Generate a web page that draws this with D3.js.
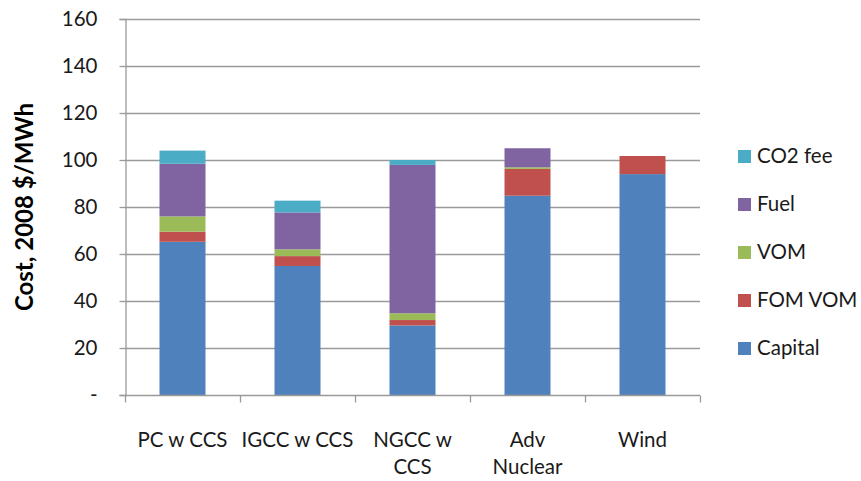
<!DOCTYPE html>
<html>
<head>
<meta charset="utf-8">
<script src="https://cdn.jsdelivr.net/npm/d3@7"></script>
<style>
  html, body { margin: 0; padding: 0; background: #fff; }
  svg { display: block; font-family: Lato, "Open Sans", "Noto Sans", sans-serif; }
</style>
</head>
<body>
<svg id="chart" width="861" height="481"></svg>
<script>
// Levelized cost components by technology (2008 $/MWh)
const categories = ["PC w CCS", "IGCC w CCS", "NGCC w CCS", "Adv Nuclear", "Wind"];
const categoryLines = [["PC w CCS"], ["IGCC w CCS"], ["NGCC w", "CCS"], ["Adv", "Nuclear"], ["Wind"]];
const seriesNames = ["Capital", "FOM VOM", "VOM", "Fuel", "CO2 fee"];
const capital = [65.2, 54.9, 29.6, 84.8, 94.0];
const fomVom  = [4.3, 4.2, 2.3, 11.4, 7.7];
const vom     = [6.5, 2.9, 2.9, 0.7, 0];
const fuel    = [22.4, 15.7, 63.1, 8.1, 0];
const co2Fee  = [5.6, 5.0, 2.1, 0, 0];
const yTicks  = [0, 20, 40, 60, 80, 100, 120, 140, 160];
const colors  = ["#4F81BD", "#C0504D", "#9BBB59", "#8064A2", "#4BACC6"];

const seriesValues = [capital, fomVom, vom, fuel, co2Fee];
const rows = categories.map((c, i) => {
  const r = { category: c };
  seriesNames.forEach((s, k) => { r[s] = seriesValues[k][i]; });
  return r;
});

const svg = d3.select("#chart");
const margin = { left: 125, right: 161, top: 19, bottom: 86 };
const W = 861, H = 481;
const plotW = W - margin.left - margin.right;
const plotH = H - margin.top - margin.bottom;

const x = d3.scaleBand().domain(categories).range([margin.left, margin.left + plotW]).paddingInner(0.6).paddingOuter(0.3);
const y = d3.scaleLinear().domain([0, 160]).range([margin.top + plotH, margin.top]);

const gridColor = "#9a9a9a";
const textColor = "#1a1a1a";
const labelSize = 20.5;

// horizontal gridlines
svg.append("g").selectAll("line").data(yTicks.filter(t => t > 0)).join("line")
  .attr("x1", margin.left).attr("x2", margin.left + plotW)
  .attr("y1", d => Math.round(y(d)) + 0.5).attr("y2", d => Math.round(y(d)) + 0.5)
  .attr("stroke", gridColor).attr("stroke-width", 1.3);

// stacked bars
const stack = d3.stack().keys(seriesNames)(rows);
svg.append("g").selectAll("g").data(stack).join("g")
  .attr("fill", (d, i) => colors[i])
  .selectAll("rect").data(d => d.filter(p => p[1] - p[0] > 0)).join("rect")
  .attr("x", d => x(d.data.category))
  .attr("width", x.bandwidth())
  .attr("y", d => y(d[1]))
  .attr("height", d => y(d[0]) - y(d[1]));

// y axis
const yAxis = d3.axisLeft(y).tickValues(yTicks).tickSize(6).tickPadding(22)
  .tickFormat(d => d === 0 ? "-" : d);
const gy = svg.append("g").attr("transform", `translate(${margin.left + 0.5},0)`).call(yAxis);
gy.select(".domain").attr("stroke", gridColor).attr("stroke-width", 1.3);
gy.selectAll(".tick line").attr("stroke", gridColor).attr("stroke-width", 1.3);
gy.selectAll(".tick text").attr("font-size", labelSize).attr("fill", textColor)
  .attr("font-family", "Lato, 'Open Sans', sans-serif");

// x axis with ticks at category boundaries
const xBase = Math.round(y(0)) + 0.5;
svg.append("line").attr("x1", margin.left).attr("x2", margin.left + plotW)
  .attr("y1", xBase).attr("y2", xBase).attr("stroke", gridColor).attr("stroke-width", 1.3);
const bounds = d3.range(categories.length + 1).map(i => margin.left + i * plotW / categories.length);
svg.append("g").selectAll("line").data(bounds).join("line")
  .attr("x1", d => Math.round(d) + 0.5).attr("x2", d => Math.round(d) + 0.5)
  .attr("y1", xBase).attr("y2", xBase + 7)
  .attr("stroke", gridColor).attr("stroke-width", 1.3);

// category labels
const xl = svg.append("g").selectAll("text").data(categories).join("text")
  .attr("x", d => x(d) + x.bandwidth() / 2)
  .attr("y", 447)
  .attr("text-anchor", "middle").attr("font-size", labelSize).attr("fill", textColor);
xl.each(function(d, i) {
  d3.select(this).selectAll("tspan").data(categoryLines[i]).join("tspan")
    .attr("x", x(d) + x.bandwidth() / 2)
    .attr("dy", (t, j) => j === 0 ? 0 : 27)
    .text(t => t);
});

// y axis title
svg.append("text")
  .attr("transform", `translate(33,${margin.top + plotH / 2}) rotate(-90)`)
  .attr("text-anchor", "middle").attr("font-size", 24).attr("font-weight", "bold")
  .attr("fill", "#000").text("Cost, 2008 $/MWh");

// legend, top entry is the top of the stack
const legendItems = seriesNames.map((s, i) => ({ name: s, color: colors[i] })).reverse();
const lg = svg.append("g").selectAll("g").data(legendItems).join("g")
  .attr("transform", (d, i) => `translate(738,${156 + i * 48})`);
lg.append("rect").attr("x", 0).attr("y", -6).attr("width", 13).attr("height", 13).attr("fill", d => d.color);
lg.append("text").attr("x", 19).attr("y", 0).attr("dy", "0.35em")
  .attr("font-size", labelSize).attr("fill", textColor).text(d => d.name);
</script>
</body>
</html>
